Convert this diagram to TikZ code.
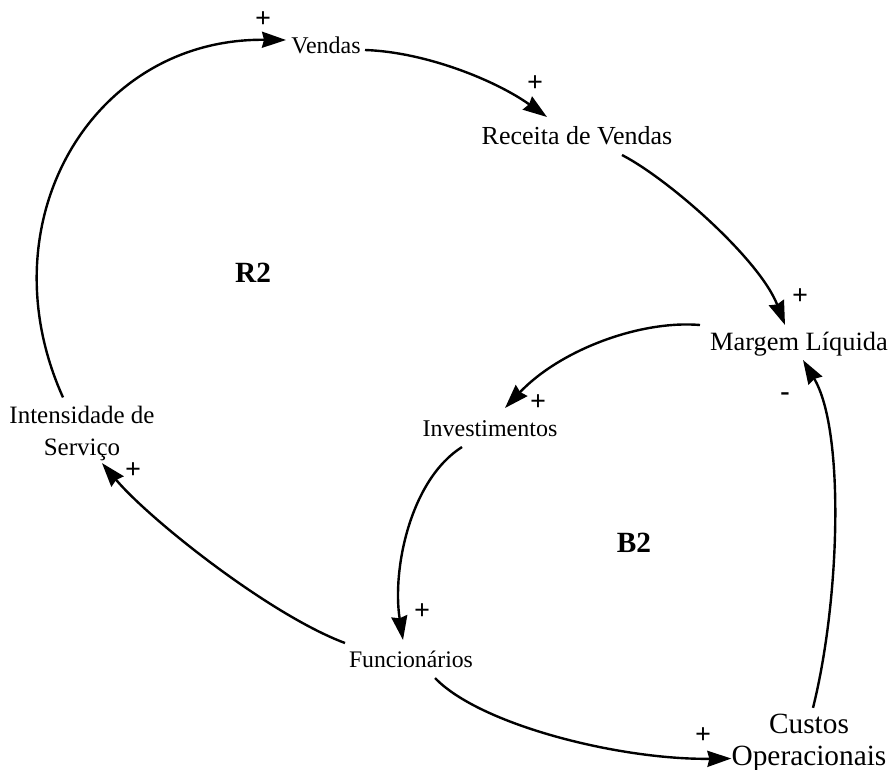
\documentclass[tikz,border=0pt]{standalone}
\usepackage{fontspec}
\setmainfont{Liberation Serif}
\usetikzlibrary{arrows.meta,calc}
\begin{document}
\begin{tikzpicture}[x=0.75pt,y=-0.75pt,
  lbl/.style={inner sep=0pt, anchor=base},
  pol/.style={inner sep=0pt, font=\bfseries\fontsize{21}{22}\selectfont},
  loopname/.style={inner sep=0pt, font=\bfseries\fontsize{22}{24}\selectfont},
  link/.style={line width=1.8pt, -{Stealth[length=18pt,width=12pt,inset=1.5pt]}}]
\fill[white] (0,0) rectangle (888,770);
\useasboundingbox (0,0) rectangle (888,770);

% variables
\node[lbl, font=\fontsize{18}{20}\selectfont] (ven) at (326,54) {Vendas};
\node[lbl, font=\fontsize{19.5}{22}\selectfont] (rec) at (577,145) {Receita de Vendas};
\node[lbl, font=\fontsize{19.8}{22}\selectfont] (mar) at (799,350) {Margem Líquida};
\node[lbl, font=\fontsize{18}{20}\selectfont] (inv) at (490,436) {Investimentos};
\node[lbl, align=center, font=\fontsize{18.75}{24}\selectfont] (int) at (82,455) {Intensidade de\\Serviço};
\node[lbl, font=\fontsize{17.8}{20}\selectfont] (fun) at (411,667) {Funcionários};
\node[lbl, align=center, font=\fontsize{22}{24}\selectfont] (cus) at (809,765) {Custos\\Operacionais};

% loop names
\node[loopname] (r2) at (253,273) {R2};
\node[loopname] (b2) at (634,543) {B2};

% links
\draw[link] ($(int.north)+(-19,-8)$) .. controls (-16,222) and (92,38) .. ($(ven.base)+(-40,-14)$);
\draw[link] ($(ven.base)+(39,-4)$) .. controls (425,52) and (495,80) .. ($(rec.base)+(-30,-28)$);
\draw[link] ($(rec.base)+(45,10)$) .. controls (670,180) and (760,260) .. ($(mar.base)+(-14,-25)$);
\draw[link] ($(mar.base)+(-99,-25)$) .. controls (640,320) and (560,350) .. ($(inv.base)+(15,-28)$);
\draw[link] ($(inv.base)+(-28,11)$) .. controls (410,480) and (392,570) .. ($(fun.base)+(-8,-27)$);
\draw[link] ($(fun.base)+(-66,-24)$) .. controls (270,615) and (150,520) .. ($(int.south)+(20,2.5)$);
\draw[link] ($(fun.base)+(24,11)$) .. controls (480,725) and (620,760) .. ($(cus.south west)+(0,-13)$);
\draw[link] ($(cus.north)+(4,-5.5)$) .. controls (840,600) and (845,430) .. ($(mar.base)+(4,10)$);

% polarities
\node[pol] (p1) at (263,20) {+};
\node[pol] (p2) at (535,84) {+};
\node[pol] (p3) at (800,297) {+};
\node[pol] (p4) at (785,397) {-};
\node[pol] (p5) at (538,403) {+};
\node[pol] (p6) at (133,471) {+};
\node[pol] (p7) at (422,612) {+};
\node[pol] (p8) at (703,736) {+};
\end{tikzpicture}
\end{document}
